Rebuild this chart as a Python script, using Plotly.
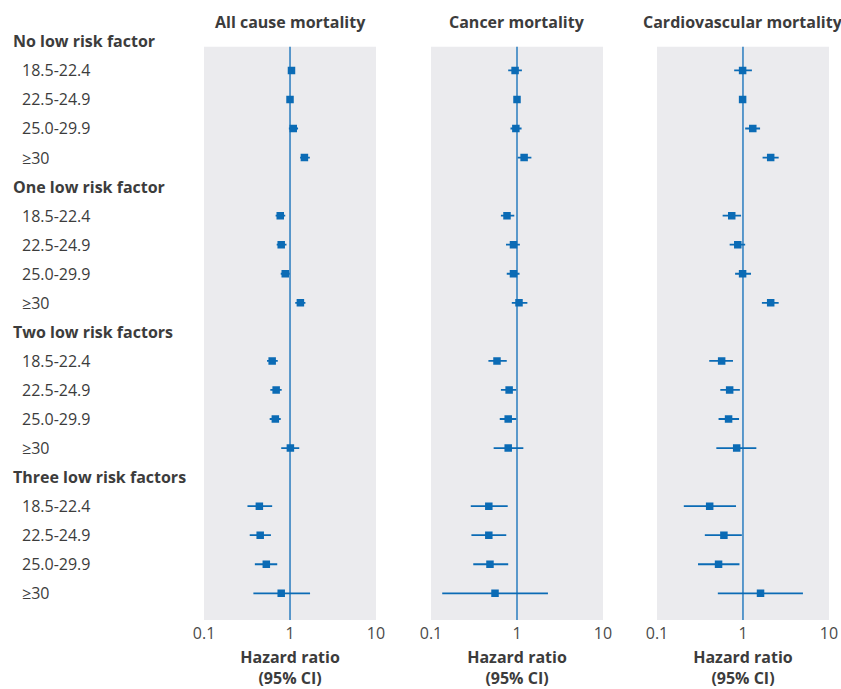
import plotly.graph_objects as go
from plotly.subplots import make_subplots

# rows: group headers followed by BMI categories
row_labels = ["No low risk factor", "18.5-22.4", "22.5-24.9", "25.0-29.9", "≥30",
              "One low risk factor", "18.5-22.4", "22.5-24.9", "25.0-29.9", "≥30",
              "Two low risk factors", "18.5-22.4", "22.5-24.9", "25.0-29.9", "≥30",
              "Three low risk factors", "18.5-22.4", "22.5-24.9", "25.0-29.9", "≥30"]
header_rows = [0, 5, 10, 15]
data_rows = [1, 2, 3, 4, 6, 7, 8, 9, 11, 12, 13, 14, 16, 17, 18, 19]

panel_titles = ["All cause mortality", "Cancer mortality", "Cardiovascular mortality"]

# hazard ratios and 95% CI per panel (order follows data_rows)
all_hr = [1.04, 1.00, 1.09, 1.47, 0.77, 0.79, 0.88, 1.32, 0.62, 0.69, 0.675, 1.01, 0.44, 0.45, 0.53, 0.79]
all_lo = [0.95, 1.00, 0.97, 1.31, 0.68, 0.70, 0.78, 1.15, 0.54, 0.59, 0.58, 0.79, 0.32, 0.34, 0.39, 0.375]
all_hi = [1.13, 1.00, 1.24, 1.70, 0.88, 0.91, 0.99, 1.51, 0.72, 0.80, 0.78, 1.28, 0.62, 0.60, 0.71, 1.71]

cancer_hr = [0.95, 1.00, 0.97, 1.21, 0.765, 0.91, 0.91, 1.055, 0.585, 0.81, 0.79, 0.79, 0.47, 0.47, 0.485, 0.555]
cancer_lo = [0.79, 1.00, 0.84, 1.02, 0.65, 0.745, 0.76, 0.87, 0.465, 0.65, 0.63, 0.535, 0.29, 0.295, 0.31, 0.135]
cancer_hi = [1.14, 1.00, 1.13, 1.47, 0.93, 1.08, 1.07, 1.32, 0.76, 0.98, 0.98, 1.185, 0.78, 0.75, 0.79, 2.29]

cvd_hr = [0.99, 0.99, 1.30, 2.10, 0.74, 0.87, 0.99, 2.10, 0.565, 0.70, 0.68, 0.845, 0.41, 0.60, 0.52, 1.60]
cvd_lo = [0.79, 0.99, 1.06, 1.69, 0.58, 0.70, 0.81, 1.66, 0.405, 0.545, 0.52, 0.49, 0.205, 0.36, 0.30, 0.51]
cvd_hi = [1.27, 0.99, 1.58, 2.60, 0.95, 1.06, 1.24, 2.60, 0.765, 0.92, 0.90, 1.43, 0.83, 0.97, 0.91, 4.98]

panels = [(all_hr, all_lo, all_hi), (cancer_hr, cancer_lo, cancer_hi), (cvd_hr, cvd_lo, cvd_hi)]

x_ticks = [0.1, 1, 10]
x_ticktext = ["0.1", "1", "10"]

# grey panel spans these row positions
panel_top, panel_bottom = 0.19, 19.92

blue = "#0b6bb5"
line_blue = "#1b74bc"
grey_bg = "#ebebee"
text_col = "#3c3c3c"
font_family = "'Open Sans', sans-serif"

fig = make_subplots(rows=1, cols=3, shared_yaxes=True)

for i, (hr, lo, hi) in enumerate(panels):
    fig.add_trace(go.Scatter(
        x=hr, y=data_rows, mode="markers",
        marker=dict(symbol="square", size=7.5, color=blue),
        error_x=dict(type="data", symmetric=False,
                     array=[h - m for h, m in zip(hi, hr)],
                     arrayminus=[m - l for m, l in zip(hr, lo)],
                     color=blue, thickness=1.8, width=0),
        showlegend=False, hoverinfo="skip"), row=1, col=i + 1)

domains = [[0.2426, 0.4471], [0.5125, 0.7170], [0.7812, 0.9857]]
for i in range(3):
    ax = "xaxis" if i == 0 else f"xaxis{i + 1}"
    fig.layout[ax].update(
        type="log", range=[-1, 1], domain=domains[i], automargin=False,
        tickvals=x_ticks, ticktext=x_ticktext, ticklabelstandoff=2,
        showgrid=False, zeroline=False, showline=False, ticks="",
        tickfont=dict(size=16, color="#4a4a4a"),
        title=dict(text="<b>Hazard ratio<br>(95% CI)</b>", standoff=15,
                   font=dict(size=16, color=text_col)))
    xref = "x" if i == 0 else f"x{i + 1}"
    yref = "y" if i == 0 else f"y{i + 1}"
    fig.add_shape(type="rect", xref=f"{xref} domain", yref=yref,
                  x0=0, x1=1, y0=panel_top, y1=panel_bottom,
                  fillcolor=grey_bg, line_width=0, layer="below")
    fig.add_shape(type="line", xref=xref, yref=yref,
                  x0=1, x1=1, y0=panel_top, y1=panel_bottom,
                  line=dict(color=line_blue, width=1.4), layer="below")
    fig.add_annotation(text=f"<b>{panel_titles[i]}</b>", xref=f"{xref} domain",
                       yref="paper", x=0.5, y=0.968, showarrow=False,
                       font=dict(size=16, color=text_col), yanchor="middle")

for i in range(3):
    ay = "yaxis" if i == 0 else f"yaxis{i + 1}"
    fig.layout[ay].update(range=[panel_bottom, -0.5], domain=[0.1001, 0.9611],
                          automargin=False, showticklabels=False, showgrid=False,
                          zeroline=False, showline=False, ticks="")

for r, lab in enumerate(row_labels):
    is_head = r in header_rows
    fig.add_annotation(text=f"<b>{lab}</b>" if is_head else lab,
                       xref="paper", yref="y", x=0.013 if is_head else 0.0238,
                       y=r, xanchor="left", yanchor="middle", showarrow=False,
                       font=dict(size=16, color=text_col))

fig.update_layout(
    width=841, height=689,
    margin=dict(l=0, r=0, t=0, b=0, autoexpand=False),
    paper_bgcolor="white",
    plot_bgcolor="white",
    font=dict(family=font_family, color=text_col),
)

# drop the default 8px page margin so the figure sits at the window's corner
fig.write_html("out.html", config={"displayModeBar": False},
               post_script="document.body.style.margin='0';")
